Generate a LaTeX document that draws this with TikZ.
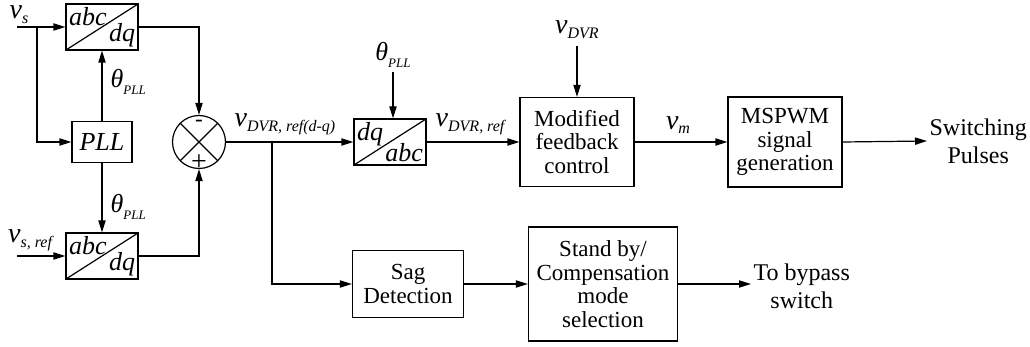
\documentclass[tikz,border=0pt]{standalone}
\usepackage{fontspec}
\setmainfont{Liberation Serif}
\usetikzlibrary{arrows.meta}

% signal names: big italic letter, small italic subscript
\newcommand{\sig}[2]{{\fontsize{14}{14}\selectfont\textit{#1}}\raisebox{-0.45ex}{\fontsize{8}{8}\selectfont\textit{#2}}}
\newcommand{\thpll}{{\fontsize{13}{13}\selectfont\textit{θ}}\raisebox{-0.6ex}{\fontsize{6.5}{6.5}\selectfont\textit{PLL}}}

\tikzset{every node/.style={font=\fontsize{11.5}{11.8}\selectfont}}

\begin{document}
\begin{tikzpicture}[x=0.5pt, y=-0.5pt, line width=0.6pt,
  >={Triangle[length=6pt,width=3.6pt]},
  blk/.style={draw, align=center, inner sep=0pt},
  conv/.style={blk, minimum width=36pt, minimum height=23pt,
    path picture={\draw (path picture bounding box.south west) -- (path picture bounding box.north east);}},
  sum/.style={draw, circle, minimum size=26.5pt, inner sep=0pt,
    path picture={\draw (path picture bounding box.north west) -- (path picture bounding box.south east)
      (path picture bounding box.north east) -- (path picture bounding box.south west);}},
  corner/.style={inner sep=1.5pt, font=\fontsize{13}{13}\selectfont\itshape},
  txt/.style={inner sep=1pt, align=center, font=\fontsize{12}{14}\selectfont}]
  \useasboundingbox (0,0) rectangle (1030,347);

  % abc -> dq transforms
  \foreach \n/\y in {1/27, 2/256} {
    \node[conv] (abc\n) at (102,\y) {};
    \node[corner, anchor=north west] (abc\n t) at (abc\n.north west) {abc};
    \node[corner, anchor=south east] (abc\n b) at (abc\n.south east) {dq};
  }
  \node[blk, minimum width=30pt, minimum height=20.5pt, font=\fontsize{13}{13}\selectfont\itshape] (pll) at (102,142) {PLL};

  % inputs
  \node[inner sep=0pt, anchor=north] (vs) at (19,5) {\sig{v}{s}};
  \node[inner sep=0pt] (vsref) at (31,240) {\sig{v}{s, ref}};
  \coordinate (vsin) at (17,27);
  \coordinate (br1) at (37,27);
  \coordinate (vsrefin) at (17,256);
  \draw[->] (vsin) -- (abc1.west);
  \draw[->] (br1) |- (pll.west);
  \draw[->] (vsrefin) -- (abc2.west);

  % PLL angle
  \draw[->] (pll.north) -- (abc1.south);
  \draw[->] (pll.south) -- (abc2.north);
  \node[anchor=west, inner sep=0pt] (th1) at (110,82) {\thpll};
  \node[anchor=west, inner sep=0pt] (th2) at (110,207) {\thpll};

  % summing junction
  \node[sum] (sum) at (199,142) {};
  \node[inner sep=0pt] (minus) at (199,123) {-};
  \node[inner sep=0pt, font=\fontsize{14}{14}\selectfont] (plus) at (199,163) {+};
  \draw[->] (abc1.east) -| (sum.north);
  \draw[->] (abc2.east) -| (sum.south);

  % dq -> abc
  \node[conv] (dqabc) at (390,142) {};
  \node[corner, anchor=north west] (dqabct) at (dqabc.north west) {dq};
  \node[corner, anchor=south east] (dqabcb) at (dqabc.south east) {abc};
  \node[inner sep=2pt] (th3) at (393,55) {\thpll};
  \draw[->] (th3) -- (th3 |- dqabc.north);
  \node[anchor=west, inner sep=0pt] (vdq) at (234,124) {\sig{v}{DVR, ref(d-q)}};
  \coordinate (br2) at (272,142);
  \draw[->] (sum.east) -- (dqabc.west);

  % main path
  \node[blk, minimum width=57pt, minimum height=44.5pt] (mod) at (577,142) {Modified\\feedback\\control};
  \node[blk, minimum width=57pt, minimum height=45pt] (pwm) at (785,142) {MSPWM\\signal\\generation};
  \node[txt, anchor=west] (pulse) at (927,141) {Switching\\Pulses};
  \node[inner sep=3pt] (vdvr) at (577,30) {\sig{v}{DVR}};
  \node[inner sep=0pt] (vref) at (471,124) {\sig{v}{DVR, ref}};
  \node[inner sep=0pt] (vm) at (678,125) {\sig{v}{m}};
  \draw[->] (dqabc.east) -- (mod.west);
  \draw[->] (vdvr) -- (mod.north);
  \draw[->] (mod.east) -- (pwm.west);
  \draw[->] (pwm.east) -- (pulse.west);

  % sag detection path
  \node[blk, minimum width=55.5pt, minimum height=33.5pt] (sag) at (408,284) {Sag\\Detection};
  \node[blk, minimum width=74.5pt, minimum height=57pt] (mode) at (603,284) {Stand by/\\Compensation\\mode\\selection};
  \node[txt, anchor=west] (bypass) at (751,286) {To bypass\\switch};
  \draw[->] (br2) |- (sag.west);
  \draw[->] (sag.east) -- (mode.west);
  \draw[->] (mode.east) -- (mode.east -| bypass.west);
\end{tikzpicture}
\end{document}
